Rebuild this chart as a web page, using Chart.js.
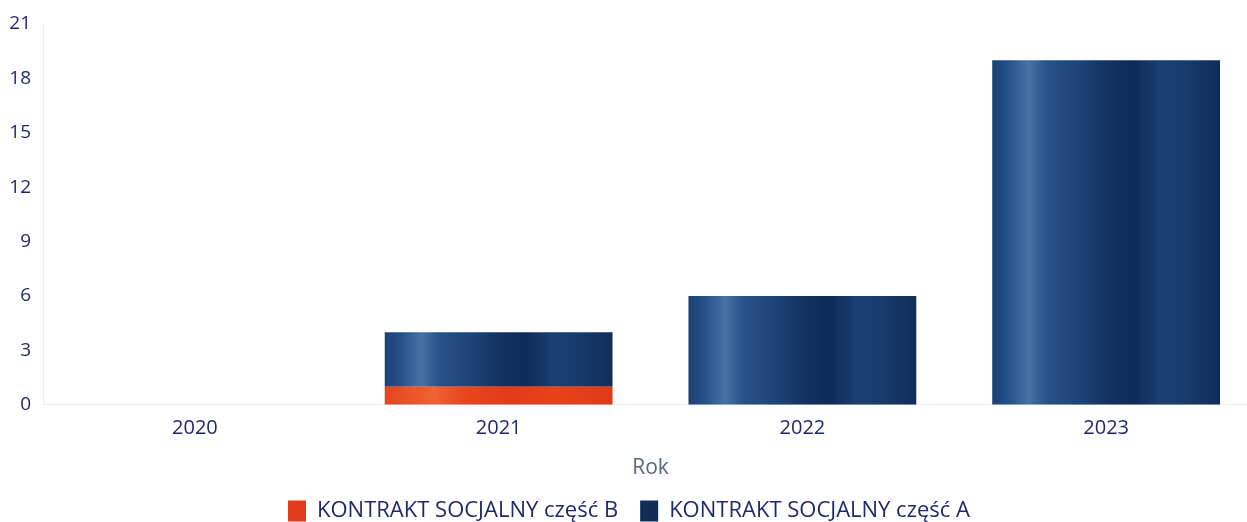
<!DOCTYPE html>
<html>
<head>
<meta charset="utf-8">
<script src="https://cdn.jsdelivr.net/npm/chart.js@4/dist/chart.umd.min.js"></script>
<style>
  html, body { margin: 0; padding: 0; background: #ffffff; overflow: hidden; }
  #wrap { position: relative; width: 1258px; height: 522px; }
</style>
</head>
<body>
<div id="wrap"><canvas id="c"></canvas></div>
<script>
const categories = ['2020', '2021', '2022', '2023'];
const seriesNames = ['KONTRAKT SOCJALNY część B', 'KONTRAKT SOCJALNY część A'];
const partB = [0, 1, 0, 0];
const partA = [0, 3, 6, 19];
const yMax = 21;
const yStep = 3;

const blueStops = [
  [0.00, '#1b4276'], [0.07, '#25508a'], [0.16, '#4673a6'], [0.24, '#28528a'],
  [0.38, '#1c4478'], [0.52, '#12315f'], [0.62, '#0e2b57'], [0.74, '#1a3f71'],
  [0.86, '#163a6a'], [1.00, '#102d59']
];
const redStops = [
  [0.00, '#e4451f'], [0.12, '#ec5529'], [0.22, '#ef6234'], [0.35, '#e8461f'],
  [0.55, '#e23a18'], [0.75, '#e8421c'], [1.00, '#de3a18']
];

function barGradient(solid, stops) {
  return function (ctx) {
    if (ctx.type !== 'data') return solid;
    const chart = ctx.chart;
    const xs = chart.scales.x;
    if (!xs || !chart.chartArea) return solid;
    const cx = xs.getPixelForValue(ctx.dataIndex);
    const catW = xs.width / categories.length;
    const w = catW * 0.75;
    const g = chart.ctx.createLinearGradient(cx - w / 2, 0, cx + w / 2, 0);
    stops.forEach(s => g.addColorStop(s[0], s[1]));
    return g;
  };
}

const navy = '#1f2a6e';

new Chart(document.getElementById('c'), {
  type: 'bar',
  data: {
    labels: categories,
    datasets: [
      {
        label: seriesNames[0],
        data: partB,
        backgroundColor: barGradient('#e4421c', redStops),
        borderWidth: 0,
        barPercentage: 0.75,
        categoryPercentage: 1.0
      },
      {
        label: seriesNames[1],
        data: partA,
        backgroundColor: barGradient('#17396a', blueStops),
        borderWidth: 0,
        barPercentage: 0.75,
        categoryPercentage: 1.0
      }
    ]
  },
  options: {
    responsive: true,
    maintainAspectRatio: false,
    animation: false,
    layout: { padding: { top: 24, right: 0, left: 0, bottom: -10 } },
    plugins: {
      tooltip: { enabled: false },
      legend: {
        position: 'bottom',
        labels: {
          color: navy,
          font: { family: 'Open Sans', size: 22 },
          boxWidth: 18,
          boxHeight: 21,
          padding: 22
        }
      }
    },
    scales: {
      x: {
        stacked: true,
        grid: { display: false },
        border: { display: true, color: '#efefef', width: 1 },
        ticks: { color: navy, font: { family: 'Open Sans', size: 20 }, padding: 3 },
        title: { display: true, text: 'Rok', color: '#5b6684', font: { family: 'Open Sans', size: 21 }, padding: { top: 13, bottom: -3 } }
      },
      y: {
        stacked: true,
        min: 0,
        max: yMax,
        grid: { display: false },
        border: { display: true, color: '#efefef', width: 1 },
        ticks: { stepSize: yStep, color: navy, font: { family: 'Open Sans', size: 19 }, padding: 4 },
        afterFit: (s) => { s.width = 43; }
      }
    }
  }
});
</script>
</body>
</html>
